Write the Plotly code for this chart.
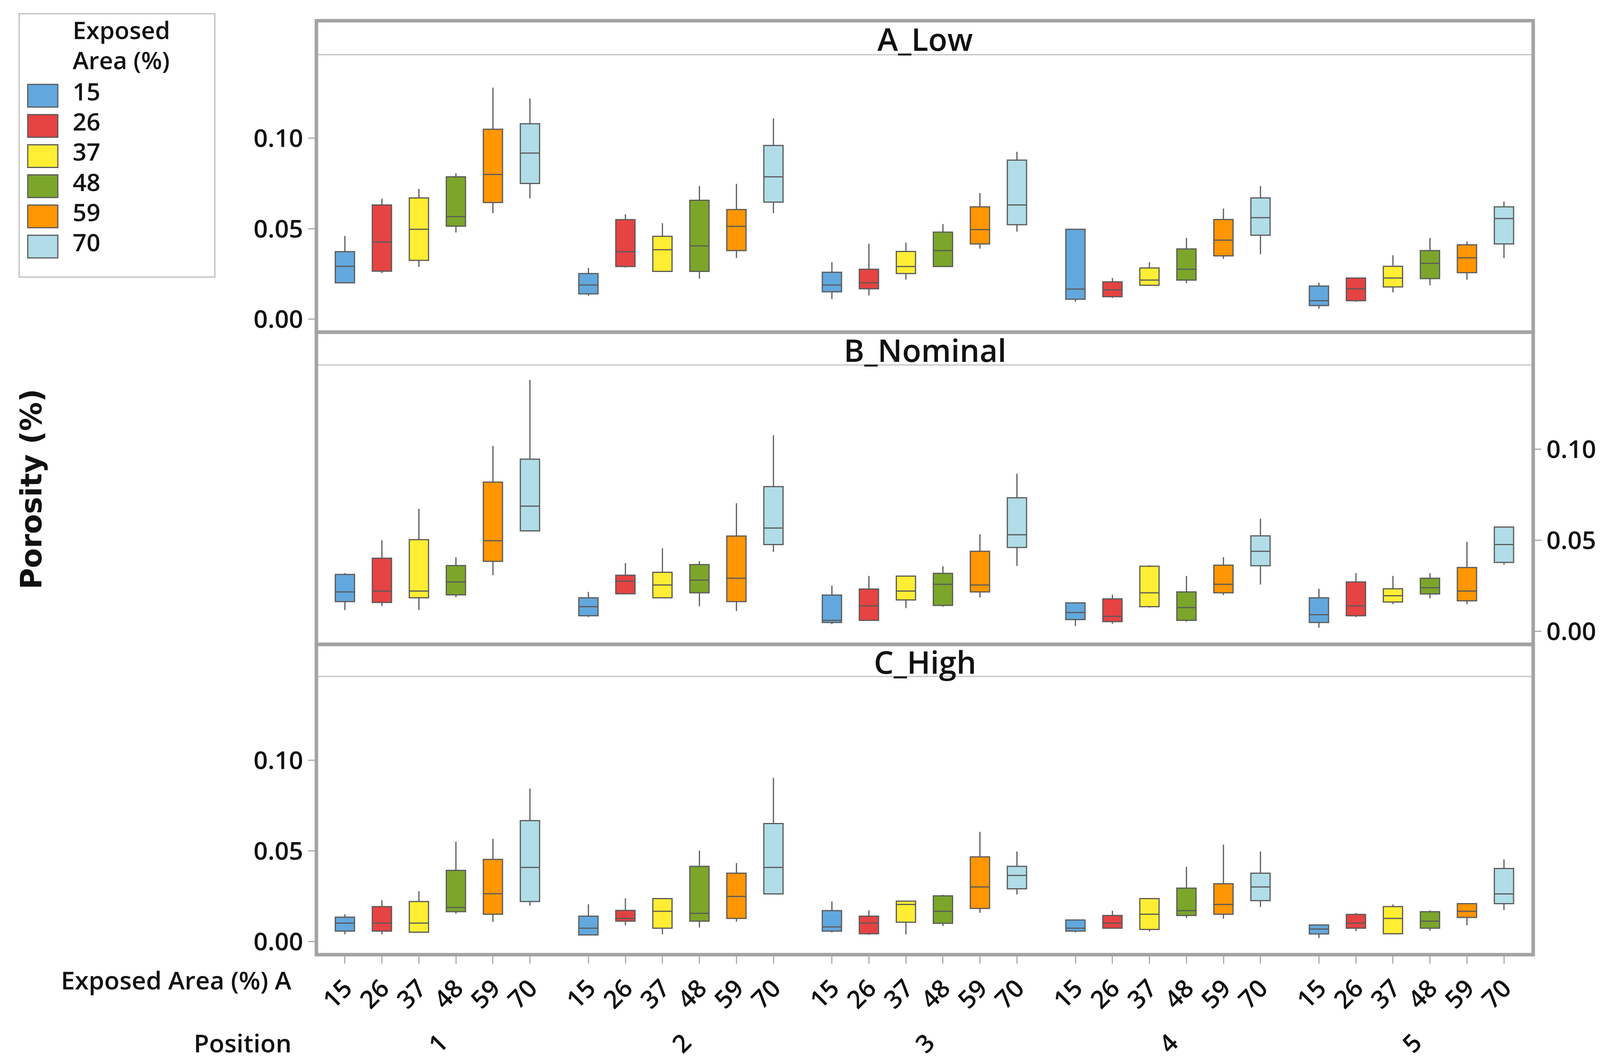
import plotly.graph_objects as go

# categories
AREAS = ["15", "26", "37", "48", "59", "70"]
POSITIONS = ["1", "2", "3", "4", "5"]
PANELS = ["A_Low", "B_Nominal", "C_High"]

# box statistics, rows = exposed area (15..70), columns = position (1..5)
A_LO = [[0.0200, 0.0129, 0.0111, 0.0096, 0.0058],
        [0.0254, 0.0285, 0.0131, 0.0117, 0.0096],
        [0.0289, 0.0264, 0.0218, 0.0183, 0.0148],
        [0.0479, 0.0224, 0.0291, 0.0199, 0.0187],
        [0.0586, 0.0338, 0.0390, 0.0333, 0.0218],
        [0.0668, 0.0586, 0.0484, 0.0359, 0.0338]]
A_Q1 = [[0.0201, 0.0140, 0.0151, 0.0110, 0.0075],
        [0.0265, 0.0291, 0.0168, 0.0124, 0.0102],
        [0.0325, 0.0264, 0.0252, 0.0187, 0.0178],
        [0.0514, 0.0264, 0.0291, 0.0216, 0.0224],
        [0.0645, 0.0379, 0.0416, 0.0350, 0.0257],
        [0.0750, 0.0647, 0.0522, 0.0464, 0.0416]]
A_MED = [[0.0292, 0.0189, 0.0189, 0.0166, 0.0102],
         [0.0426, 0.0373, 0.0201, 0.0162, 0.0168],
         [0.0497, 0.0384, 0.0291, 0.0216, 0.0227],
         [0.0567, 0.0405, 0.0379, 0.0276, 0.0308],
         [0.0800, 0.0513, 0.0495, 0.0437, 0.0339],
         [0.0918, 0.0787, 0.0631, 0.0561, 0.0556]]
A_Q3 = [[0.0373, 0.0252, 0.0259, 0.0497, 0.0183],
        [0.0631, 0.0550, 0.0276, 0.0206, 0.0227],
        [0.0670, 0.0458, 0.0374, 0.0283, 0.0292],
        [0.0787, 0.0657, 0.0481, 0.0388, 0.0379],
        [0.1050, 0.0606, 0.0621, 0.0551, 0.0411],
        [0.1080, 0.0960, 0.0879, 0.0670, 0.0621]]
A_HI = [[0.0460, 0.0283, 0.0315, 0.0497, 0.0201],
        [0.0666, 0.0580, 0.0417, 0.0228, 0.0227],
        [0.0720, 0.0530, 0.0423, 0.0315, 0.0353],
        [0.0806, 0.0736, 0.0526, 0.0449, 0.0449],
        [0.1280, 0.0748, 0.0697, 0.0612, 0.0429],
        [0.1220, 0.1110, 0.0925, 0.0736, 0.0650]]

B_LO = [[0.0117, 0.0078, 0.0039, 0.0029, 0.0020],
        [0.0139, 0.0206, 0.0060, 0.0041, 0.0078],
        [0.0117, 0.0184, 0.0127, 0.0130, 0.0149],
        [0.0187, 0.0137, 0.0135, 0.0053, 0.0181],
        [0.0308, 0.0111, 0.0186, 0.0199, 0.0149],
        [0.0551, 0.0436, 0.0359, 0.0257, 0.0366]]
B_Q1 = [[0.0163, 0.0085, 0.0048, 0.0064, 0.0048],
        [0.0158, 0.0206, 0.0060, 0.0053, 0.0085],
        [0.0184, 0.0184, 0.0172, 0.0135, 0.0161],
        [0.0200, 0.0211, 0.0142, 0.0060, 0.0205],
        [0.0384, 0.0163, 0.0216, 0.0211, 0.0167],
        [0.0551, 0.0476, 0.0460, 0.0360, 0.0378]]
B_MED = [[0.0216, 0.0135, 0.0060, 0.0103, 0.0091],
         [0.0221, 0.0275, 0.0140, 0.0082, 0.0140],
         [0.0221, 0.0254, 0.0221, 0.0211, 0.0195],
         [0.0271, 0.0281, 0.0258, 0.0130, 0.0239],
         [0.0497, 0.0291, 0.0254, 0.0258, 0.0221],
         [0.0687, 0.0567, 0.0530, 0.0439, 0.0476]]
B_Q3 = [[0.0312, 0.0184, 0.0199, 0.0156, 0.0184],
        [0.0401, 0.0308, 0.0232, 0.0178, 0.0271],
        [0.0503, 0.0324, 0.0303, 0.0357, 0.0233],
        [0.0361, 0.0366, 0.0318, 0.0216, 0.0291],
        [0.0819, 0.0523, 0.0439, 0.0363, 0.0350],
        [0.0945, 0.0794, 0.0733, 0.0524, 0.0572]]
B_HI = [[0.0319, 0.0216, 0.0251, 0.0158, 0.0233],
        [0.0499, 0.0374, 0.0304, 0.0201, 0.0319],
        [0.0673, 0.0455, 0.0303, 0.0363, 0.0304],
        [0.0406, 0.0385, 0.0357, 0.0304, 0.0319],
        [0.1018, 0.0703, 0.0532, 0.0407, 0.0491],
        [0.1380, 0.1076, 0.0865, 0.0618, 0.0573]]

C_LO = [[0.0040, 0.0037, 0.0051, 0.0051, 0.0020],
        [0.0040, 0.0090, 0.0037, 0.0074, 0.0058],
        [0.0052, 0.0040, 0.0040, 0.0056, 0.0043],
        [0.0153, 0.0078, 0.0086, 0.0130, 0.0060],
        [0.0109, 0.0110, 0.0159, 0.0126, 0.0090],
        [0.0198, 0.0263, 0.0260, 0.0191, 0.0174]]
C_Q1 = [[0.0058, 0.0037, 0.0058, 0.0058, 0.0042],
        [0.0058, 0.0113, 0.0043, 0.0074, 0.0074],
        [0.0052, 0.0074, 0.0107, 0.0067, 0.0043],
        [0.0165, 0.0113, 0.0101, 0.0144, 0.0074],
        [0.0151, 0.0128, 0.0183, 0.0151, 0.0133],
        [0.0221, 0.0263, 0.0291, 0.0226, 0.0209]]
C_MED = [[0.0102, 0.0074, 0.0081, 0.0074, 0.0069],
         [0.0102, 0.0128, 0.0102, 0.0102, 0.0102],
         [0.0102, 0.0167, 0.0205, 0.0151, 0.0128],
         [0.0188, 0.0156, 0.0167, 0.0171, 0.0113],
         [0.0264, 0.0249, 0.0301, 0.0205, 0.0167],
         [0.0409, 0.0409, 0.0365, 0.0301, 0.0263]]
C_Q3 = [[0.0135, 0.0140, 0.0171, 0.0119, 0.0092],
        [0.0193, 0.0172, 0.0140, 0.0144, 0.0150],
        [0.0221, 0.0237, 0.0223, 0.0237, 0.0193],
        [0.0393, 0.0415, 0.0252, 0.0295, 0.0165],
        [0.0453, 0.0377, 0.0467, 0.0319, 0.0209],
        [0.0667, 0.0651, 0.0415, 0.0377, 0.0403]]
C_HI = [[0.0151, 0.0206, 0.0221, 0.0123, 0.0095],
        [0.0228, 0.0238, 0.0172, 0.0170, 0.0158],
        [0.0277, 0.0237, 0.0226, 0.0237, 0.0205],
        [0.0551, 0.0502, 0.0258, 0.0412, 0.0172],
        [0.0566, 0.0433, 0.0605, 0.0535, 0.0212],
        [0.0844, 0.0903, 0.0497, 0.0497, 0.0453]]

Y_TICKS = [0.0, 0.05, 0.10]
Y_TICK_TEXT = ["0.00", "0.05", "0.10"]
LEGEND_TITLE = ["Exposed", "Area (%)"]

STATS = [
    (A_LO, A_Q1, A_MED, A_Q3, A_HI),
    (B_LO, B_Q1, B_MED, B_Q3, B_HI),
    (C_LO, C_Q1, C_MED, C_Q3, C_HI),
]

COLORS = ["#62A8DE", "#E64343", "#FFEE33", "#7BA62A", "#FF9602", "#B0DDE8"]
FONT = "Open Sans"
TXT = dict(family=FONT, size=64, color="#111111", weight=600)
W, H = 4142, 2710
GROUP_STEP = 6.58


def px_x(v):
    return v / W


def px_y(v):
    return 1 - v / H


# panel geometry in pixels: (strip top, strip bottom, panel bottom)
PANEL_PX = [(45, 132, 842), (842, 926, 1641), (1641, 1723, 2435)]
X0, X1 = px_x(802), px_x(3917)

fig = go.Figure()

for p, (lo, q1, med, q3, hi) in enumerate(STATS):
    yname = "y" if p == 0 else f"y{p + 1}"
    for i, area in enumerate(AREAS):
        xs = [g * GROUP_STEP + i for g in range(len(POSITIONS))]
        fig.add_trace(go.Box(
            x=xs,
            lowerfence=lo[i], q1=q1[i], median=med[i], q3=q3[i], upperfence=hi[i],
            name=area,
            xaxis="x", yaxis=yname,
            width=0.52,
            whiskerwidth=0,
            fillcolor=COLORS[i],
            line=dict(color="#5a5a5a", width=3),
            showlegend=False,
            hoverinfo="skip",
        ))

tickvals = [g * GROUP_STEP + i for g in range(len(POSITIONS)) for i in range(len(AREAS))]
ticktext = [a for _ in POSITIONS for a in AREAS]

yaxis_common = dict(
    range=[-0.0072, 0.1462], tickvals=Y_TICKS, ticktext=Y_TICK_TEXT,
    ticks="outside", ticklen=20, tickwidth=3, tickcolor="#aaaaaa",
    showgrid=False, zeroline=False, showline=False, automargin=False,
    tickfont=TXT, anchor="x",
)

layout_axes = {}
for p, (top, sb, bot) in enumerate(PANEL_PX):
    key = "yaxis" if p == 0 else f"yaxis{p + 1}"
    layout_axes[key] = dict(yaxis_common, domain=[px_y(bot), px_y(sb)],
                            side="right" if p == 1 else "left")

fig.update_layout(
    width=W, height=H, autosize=False,
    margin=dict(l=0, r=0, t=0, b=0),
    paper_bgcolor="white", plot_bgcolor="white",
    showlegend=False,
    xaxis=dict(
        domain=[X0, X1], range=[-0.77, 4 * GROUP_STEP + 5 + 0.79],
        anchor="y3", tickvals=tickvals, ticktext=ticktext, tickangle=-45,
        ticks="outside", ticklen=22, tickwidth=3, tickcolor="#aaaaaa",
        showgrid=False, zeroline=False, showline=False, automargin=False,
        tickfont=TXT,
    ),
    **layout_axes,
)

shapes = []
annotations = []
for p, (top, sb, bot) in enumerate(PANEL_PX):
    shapes.append(dict(type="line", xref="paper", yref="paper",
                       x0=X0, x1=X1, y0=px_y(sb), y1=px_y(sb),
                       line=dict(color="#c2c2c2", width=3)))
    shapes.append(dict(type="rect", xref="paper", yref="paper",
                       x0=X0, x1=X1, y0=px_y(bot), y1=px_y(top),
                       line=dict(color="#a3a3a3", width=9)))
    annotations.append(dict(text=PANELS[p], xref="paper", yref="paper",
                            x=(X0 + X1) / 2, y=px_y((top + sb) / 2 + 2),
                            showarrow=False, xanchor="center", yanchor="middle",
                            font=dict(TXT, size=80)))

# y axis title
annotations.append(dict(text="Porosity (%)", xref="paper", yref="paper",
                        x=px_x(72), y=px_y(1244), textangle=-90, showarrow=False,
                        xanchor="center", yanchor="middle",
                        font=dict(family="DejaVu Sans", size=74, color="#111111",
                                  weight="bold")))

# bottom row labels
annotations.append(dict(text="Exposed Area (%) A", xref="paper", yref="paper",
                        x=px_x(740), y=px_y(2499), showarrow=False,
                        xanchor="right", yanchor="middle", font=TXT))
annotations.append(dict(text="Position", xref="paper", yref="paper",
                        x=px_x(740), y=px_y(2660), showarrow=False,
                        xanchor="right", yanchor="middle", font=TXT))
for g, pos in enumerate(POSITIONS):
    annotations.append(dict(text=pos, xref="x", yref="paper",
                            x=g * GROUP_STEP + 2.5, y=px_y(2660), showarrow=False,
                            textangle=-45, xanchor="center", yanchor="middle",
                            font=TXT))

# legend box
shapes.append(dict(type="rect", xref="paper", yref="paper",
                   x0=px_x(41), x1=px_x(542), y0=px_y(701), y1=px_y(27),
                   line=dict(color="#bdbdbd", width=3)))
for k, line in enumerate(LEGEND_TITLE):
    annotations.append(dict(text=line, xref="paper", yref="paper",
                            x=px_x(176), y=px_y(68 + k * 77), showarrow=False,
                            xanchor="left", yanchor="middle", height=72,
                            font=dict(TXT, size=62)))
for i, area in enumerate(AREAS):
    cy = 237 + i * 77.2
    shapes.append(dict(type="rect", xref="paper", yref="paper",
                       x0=px_x(63), x1=px_x(140), y0=px_y(cy + 29), y1=px_y(cy - 29),
                       fillcolor=COLORS[i], line=dict(color="#5a5a5a", width=3)))
    annotations.append(dict(text=area, xref="paper", yref="paper",
                            x=px_x(176), y=px_y(cy - 12), showarrow=False,
                            xanchor="left", yanchor="middle", height=72,
                            font=dict(TXT, size=62)))

fig.update_layout(shapes=shapes, annotations=annotations)

fig.write_html("out.html")
